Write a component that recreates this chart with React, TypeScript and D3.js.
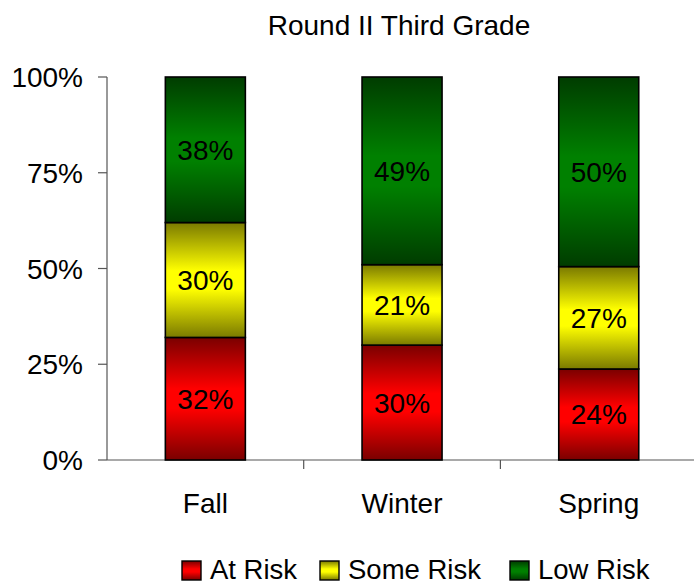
import React from "react";
import * as d3 from "d3";

const categories = ["Fall", "Winter", "Spring"];
const seriesNames = ["At Risk", "Some Risk", "Low Risk"];
const atRisk = [32, 30, 24];
const someRisk = [30, 21, 27];
const lowRisk = [38, 49, 50];
const yTicks = [0, 0.25, 0.5, 0.75, 1];
const title = "Round II Third Grade";

const gradColors = [
  { id: "gRed", dark: "#7a0000", bright: "#ff0000" },
  { id: "gYel", dark: "#7a7a00", bright: "#ffff00" },
  { id: "gGrn", dark: "#003c00", bright: "#008000" },
];

export default function App() {
  const W = 694, H = 585;
  const x0 = 107, bandW = 196.7, y0 = 460, y1 = 77;
  const font = "'Liberation Sans', Arial, sans-serif";
  const fs = 28;

  const rows = categories.map((c, i) => ({
    cat: c,
    "At Risk": atRisk[i],
    "Some Risk": someRisk[i],
    "Low Risk": lowRisk[i],
  }));
  const stack = d3.stack<any>().keys(seriesNames).offset(d3.stackOffsetExpand);
  const layers = stack(rows);

  const x = d3.scaleBand().domain(categories).range([x0, x0 + bandW * 3]).padding(0);
  const y = d3.scaleLinear().domain([0, 1]).range([y0, y1]);
  const barW = 80;
  const fmt = d3.format(".0%");

  return (
    <svg width={W} height={H} style={{ position: "absolute", left: 0, top: 0, background: "#fff" }}>
      <defs>
        {gradColors.map((g) => (
          <linearGradient key={g.id} id={g.id} x1="0" y1="0" x2="0" y2="1">
            <stop offset="0" stopColor={g.dark} />
            <stop offset="0.42" stopColor={g.bright} />
            <stop offset="0.58" stopColor={g.bright} />
            <stop offset="1" stopColor={g.dark} />
          </linearGradient>
        ))}
      </defs>
      <text x={399} y={35} textAnchor="middle" fontFamily={font} fontSize={fs} fill="#000">
        {title}
      </text>
      {/* y axis */}
      <line x1={x0} x2={x0} y1={y1} y2={y0} stroke="#555" strokeWidth={1.2} />
      {yTicks.map((t) => (
        <g key={t}>
          <line x1={x0 - 9} x2={x0} y1={y(t)} y2={y(t)} stroke="#555" strokeWidth={1.2} />
          <text x={83} y={y(t) + 10} textAnchor="end" fontFamily={font} fontSize={fs} fill="#000">
            {fmt(t)}
          </text>
        </g>
      ))}
      {/* x axis */}
      <line x1={x0} x2={W} y1={y0} y2={y0} stroke="#555" strokeWidth={1.2} />
      {categories.map((c, i) => (
        <g key={c}>
          {i > 0 && (
            <line x1={x(c)!} x2={x(c)!} y1={y0} y2={y0 + 9} stroke="#555" strokeWidth={1.2} />
          )}
          <text
            x={x(c)! + x.bandwidth() / 2}
            y={513}
            textAnchor="middle"
            fontFamily={font}
            fontSize={fs}
            fill="#000"
          >
            {c}
          </text>
        </g>
      ))}
      {/* bars */}
      {layers.map((layer, li) => (
        <g key={layer.key}>
          {layer.map((d, i) => {
            const cx = x(categories[i])! + x.bandwidth() / 2;
            const top = y(d[1]);
            const bot = y(d[0]);
            return (
              <g key={i}>
                <rect
                  x={cx - barW / 2}
                  y={top}
                  width={barW}
                  height={bot - top}
                  fill={`url(#${gradColors[li].id})`}
                  stroke="#000"
                  strokeWidth={1.6}
                />
                <text
                  x={cx}
                  y={(top + bot) / 2 + 10}
                  textAnchor="middle"
                  fontFamily={font}
                  fontSize={fs}
                  fill="#000"
                >
                  {(d.data as any)[layer.key]}%
                </text>
              </g>
            );
          })}
        </g>
      ))}
      {/* legend */}
      {seriesNames.map((s, i) => {
        const lx = [182, 320, 510][i];
        return (
          <g key={s}>
            <rect x={lx} y={561} width={19} height={19} fill={`url(#${gradColors[i].id})`} stroke="#000" strokeWidth={1.4} />
            <text x={lx + 28} y={579} fontFamily={font} fontSize={27.5} fill="#000">
              {s}
            </text>
          </g>
        );
      })}
    </svg>
  );
}
